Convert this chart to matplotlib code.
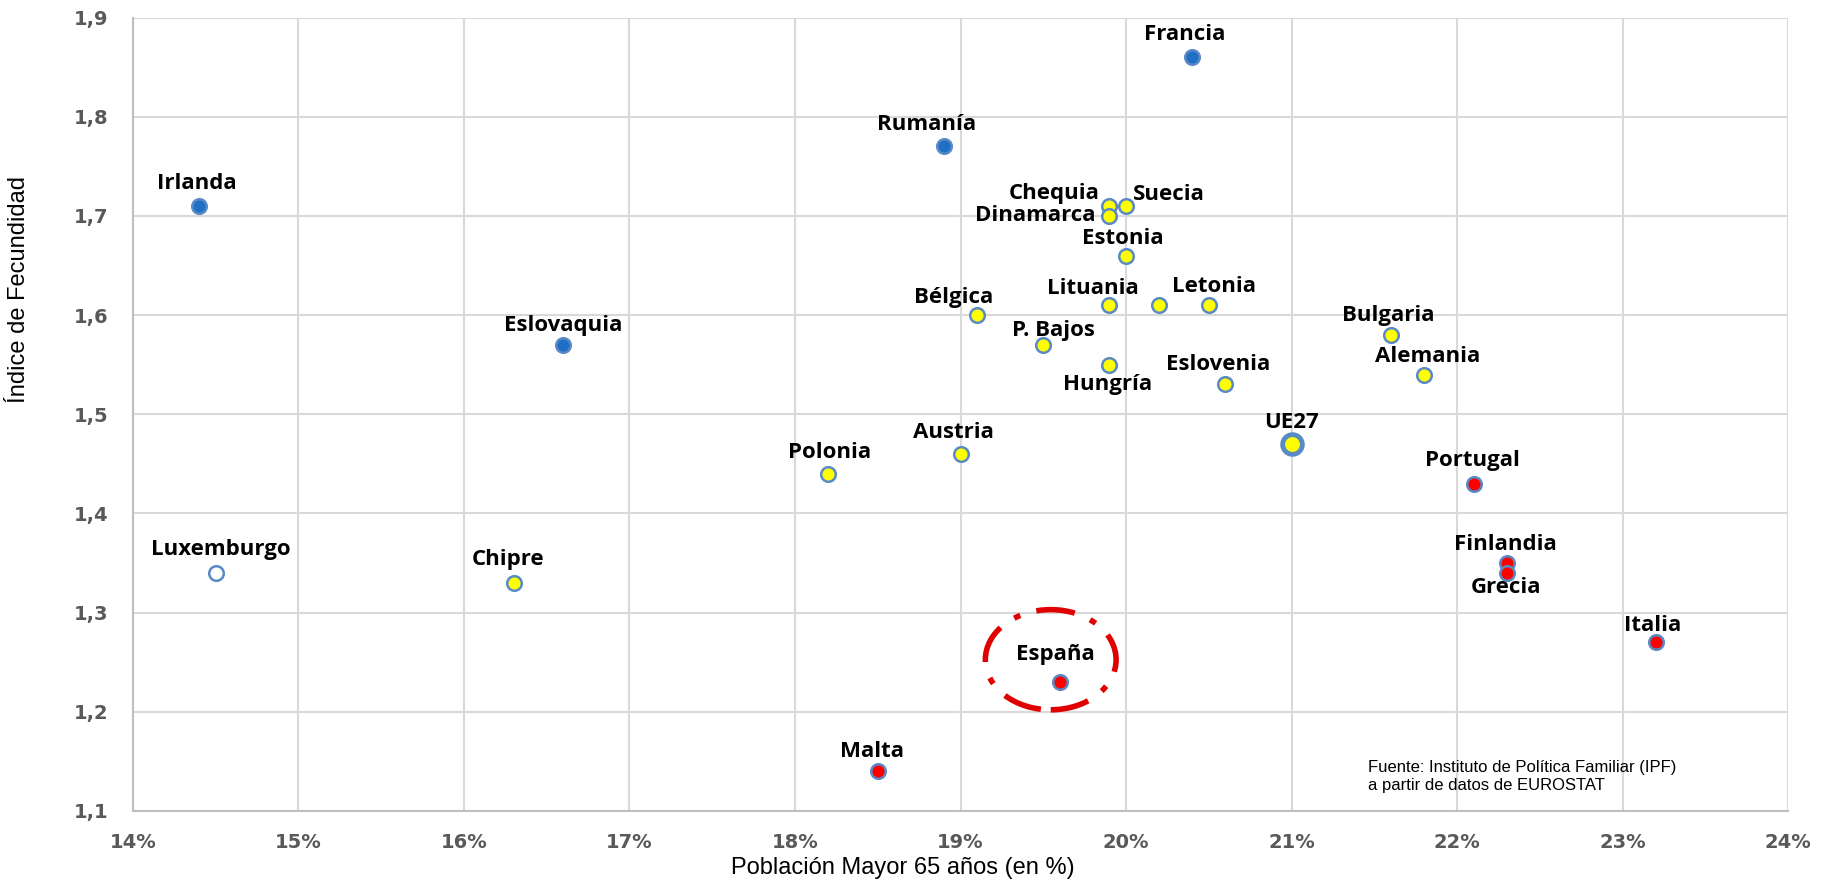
import matplotlib
matplotlib.use("Agg")
import matplotlib.pyplot as plt
from matplotlib.patches import Ellipse
from matplotlib.ticker import FuncFormatter, MultipleLocator

# Datos: poblacion mayor de 65 (%) e indice de fecundidad
paises = ["Irlanda", "Luxemburgo", "Eslovaquia", "Chipre", "Polonia", "Malta",
          "Rumanía", "Austria", "Bélgica", "P. Bajos", "España", "Chequia",
          "Dinamarca", "Suecia", "Estonia", "Lituania", "", "Letonia",
          "Hungría", "Eslovenia", "Francia", "UE27", "Bulgaria", "Alemania",
          "Portugal", "Finlandia", "Grecia", "Italia"]
mayores65 = [14.4, 14.5, 16.6, 16.3, 18.2, 18.5,
             18.9, 19.0, 19.1, 19.5, 19.6, 19.9,
             19.9, 20.0, 20.0, 19.9, 20.2, 20.5,
             19.9, 20.6, 20.4, 21.0, 21.6, 21.8,
             22.1, 22.3, 22.3, 23.2]
fecundidad = [1.71, 1.34, 1.57, 1.33, 1.44, 1.14,
              1.77, 1.46, 1.60, 1.57, 1.23, 1.71,
              1.70, 1.71, 1.66, 1.61, 1.61, 1.61,
              1.55, 1.53, 1.86, 1.47, 1.58, 1.54,
              1.43, 1.35, 1.34, 1.27]
grupo = ["azul", "vacio", "azul", "amarillo", "amarillo", "rojo",
         "azul", "amarillo", "amarillo", "amarillo", "rojo", "amarillo",
         "amarillo", "amarillo", "amarillo", "amarillo", "amarillo", "amarillo",
         "amarillo", "amarillo", "azul", "ue", "amarillo", "amarillo",
         "rojo", "rojo", "rojo", "rojo"]

colores = {"azul": "#1F6FC5", "vacio": "white", "amarillo": "#FFFF00",
           "rojo": "#FF0000", "ue": "#FFFF00"}
borde = "#5A8AC6"

# posicion de etiquetas (pixeles respecto al punto) y alineacion
offsets = {
    "Irlanda": (-2, 22), "Luxemburgo": (5, 23), "Eslovaquia": (0, 19),
    "Chipre": (-6, 23), "Polonia": (1, 21), "Malta": (-6, 20),
    "Rumanía": (-17, 22), "Austria": (-7, 21), "Bélgica": (-23, 18),
    "P. Bajos": (10, 14), "España": (-4, 28), "Chequia": (-10, 12),
    "Dinamarca": (-14, 0), "Suecia": (7, 11), "Estonia": (-3, 17),
    "Lituania": (-17, 17), "Letonia": (5, 19), "Hungría": (-2, -20),
    "Eslovenia": (-7, 20), "Francia": (-8, 23), "UE27": (0, 22),
    "Bulgaria": (-3, 19), "Alemania": (4, 18), "Portugal": (-1, 23),
    "Finlandia": (-1, 19), "Grecia": (-1, -15), "Italia": (-3, 17),
}
alineacion = {"Chequia": "right", "Dinamarca": "right", "Suecia": "left"}

fig = plt.figure(figsize=(18.24, 8.86), dpi=100)
ax = fig.add_axes([0.0729, 0.0847, 0.9074, 0.8955])

for x, y, g in zip(mayores65, fecundidad, grupo):
    if g == "ue":
        ax.scatter(x, y, s=200, c=colores[g], edgecolors=borde, linewidths=3.5, zorder=3)
    else:
        ax.scatter(x, y, s=110, c=colores[g], edgecolors=borde, linewidths=1.8, zorder=3)

for nombre, x, y in zip(paises, mayores65, fecundidad):
    if not nombre:
        continue
    dx, dy = offsets[nombre]
    ax.annotate(nombre, (x, y), xytext=(dx, dy), textcoords="offset pixels",
                ha=alineacion.get(nombre, "center"), va="center",
                fontsize=16, fontweight="bold", family=["Open Sans", "DejaVu Sans"],
                color="black", zorder=4)

ax.add_patch(Ellipse((19.545, 1.2525), 0.79, 0.101, fill=False, edgecolor="#E00000",
                     linewidth=4, linestyle=(0, (7, 3, 1.2, 3)), zorder=2))

ax.text(21.46, 1.135, "Fuente: Instituto de Política Familiar (IPF)\na partir de datos de EUROSTAT",
        fontsize=12, family=["Liberation Sans", "DejaVu Sans"], va="center", ha="left",
        linespacing=1.25)

ax.set_xlim(14, 24)
ax.set_ylim(1.1, 1.9)
ax.xaxis.set_major_locator(MultipleLocator(1))
ax.yaxis.set_major_locator(MultipleLocator(0.1))
ax.xaxis.set_major_formatter(FuncFormatter(lambda v, p: f"{v:.0f}%"))
ax.yaxis.set_major_formatter(FuncFormatter(lambda v, p: f"{v:.1f}".replace(".", ",")))
ax.grid(True, color="#D9D9D9", linewidth=1.5, zorder=0)
ax.set_axisbelow(True)
for s in ["top", "right"]:
    ax.spines[s].set_visible(False)
for s in ["left", "bottom"]:
    ax.spines[s].set_color("#BFBFBF")
    ax.spines[s].set_linewidth(1.5)
ax.tick_params(length=0, labelsize=14, labelcolor="#595959")
ax.tick_params(axis="x", pad=16)
ax.tick_params(axis="y", pad=18)
for lab in ax.get_xticklabels() + ax.get_yticklabels():
    lab.set_fontweight("bold")

ax.set_xlabel("Población Mayor 65 años (en %)", fontsize=17,
              family=["Liberation Sans", "DejaVu Sans"])
ax.set_ylabel("Índice de Fecundidad", fontsize=17,
              family=["Liberation Sans", "DejaVu Sans"])
ax.xaxis.set_label_coords(0.465, -0.058)
ax.yaxis.set_label_coords(-0.062, 0.657)

fig.savefig("out.png", dpi=100)
